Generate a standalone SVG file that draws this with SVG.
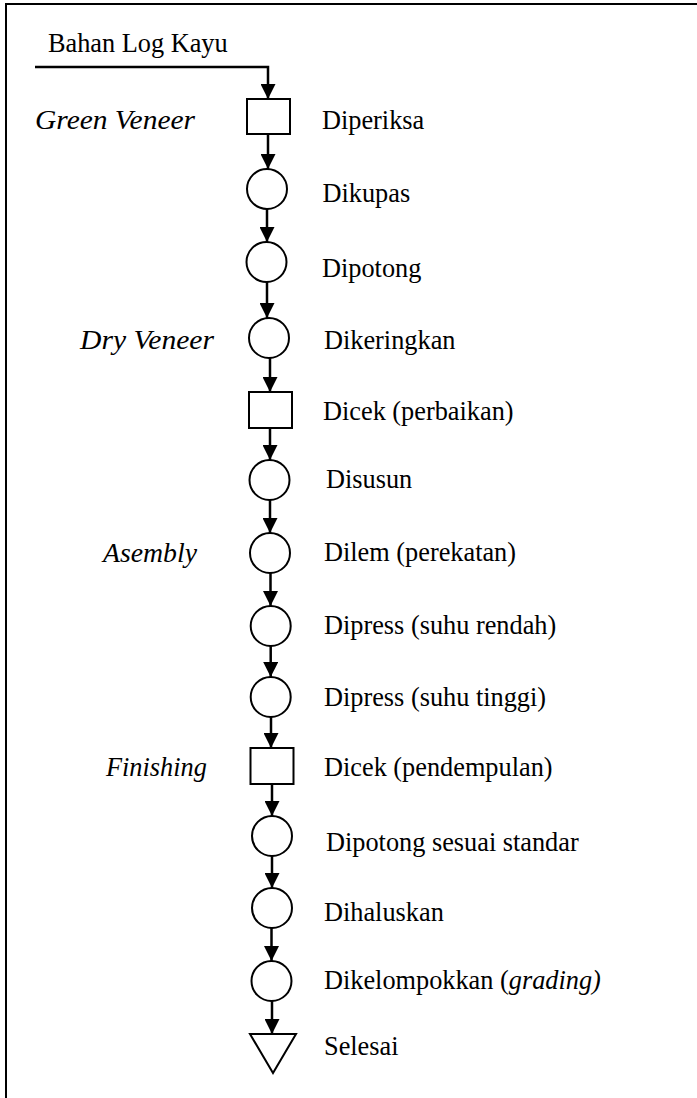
<svg xmlns="http://www.w3.org/2000/svg" width="697" height="1098" viewBox="0 0 697 1098">
  <defs>
    <marker id="arrow" markerUnits="userSpaceOnUse" markerWidth="15" markerHeight="15" refX="15" refY="7.5" orient="auto">
      <path d="M0,0 L15,7.5 L0,15 Z" fill="#000"/>
    </marker>
  </defs>
  <style>
    .frame { fill: none; stroke: #000; stroke-width: 2; }
    .shape { fill: #fff; stroke: #000; stroke-width: 2; }
    .link { fill: none; stroke: #000; stroke-width: 2.5; marker-end: url(#arrow); }
    .lbl { font-family: 'Liberation Serif', serif; font-size: 26.3px; fill: #000; }
    .phase { font-style: italic; }
  </style>
  <rect width="697" height="1098" fill="#fff"/>

  <!-- page frame: top and left rules -->
  <path class="frame" d="M697,4 H6 V1098"/>

  <text class="lbl" x="48" y="52">Bahan Log Kayu</text>

  <!-- phase captions -->
  <g id="phase-green-veneer"><text class="lbl phase" x="35" y="129" textLength="160" lengthAdjust="spacingAndGlyphs">Green Veneer</text></g>
  <g id="phase-dry-veneer"><text class="lbl phase" x="80" y="349" textLength="134" lengthAdjust="spacingAndGlyphs">Dry Veneer</text></g>
  <g id="phase-asembly"><text class="lbl phase" x="103" y="562" textLength="94" lengthAdjust="spacingAndGlyphs">Asembly</text></g>
  <g id="phase-finishing"><text class="lbl phase" x="106" y="776">Finishing</text></g>

  <!-- connectors -->
  <g id="connectors">
    <path class="link" d="M35,67 H268 V99"/>
    <path class="link" d="M268,134 V169"/>
    <path class="link" d="M267,209 V242"/>
    <path class="link" d="M267,282 V318"/>
    <path class="link" d="M270,358 V392"/>
    <path class="link" d="M270,428 V460"/>
    <path class="link" d="M270,500 V533"/>
    <path class="link" d="M270.5,573 V606"/>
    <path class="link" d="M270.7,646 V677"/>
    <path class="link" d="M271,717 V748"/>
    <path class="link" d="M272,784 V816"/>
    <path class="link" d="M272,856 V888"/>
    <path class="link" d="M271.5,928 V961"/>
    <path class="link" d="M272,1001 V1034"/>
  </g>

  <!-- process steps -->
  <g id="diperiksa">
    <rect class="shape" x="247" y="99" width="43" height="35"/>
    <text class="lbl" x="322" y="129">Diperiksa</text>
  </g>
  <g id="dikupas">
    <circle class="shape" cx="267" cy="189" r="20"/>
    <text class="lbl" x="322.5" y="202">Dikupas</text>
  </g>
  <g id="dipotong">
    <circle class="shape" cx="266.5" cy="262" r="20"/>
    <text class="lbl" x="322" y="276.5">Dipotong</text>
  </g>
  <g id="dikeringkan">
    <circle class="shape" cx="269" cy="338" r="20"/>
    <text class="lbl" x="324" y="349">Dikeringkan</text>
  </g>
  <g id="dicek-perbaikan">
    <rect class="shape" x="249" y="392" width="43" height="36"/>
    <text class="lbl" x="323" y="420">Dicek (perbaikan)</text>
  </g>
  <g id="disusun">
    <circle class="shape" cx="269.5" cy="480" r="20"/>
    <text class="lbl" x="326" y="488">Disusun</text>
  </g>
  <g id="dilem">
    <circle class="shape" cx="270" cy="553" r="20"/>
    <text class="lbl" x="324" y="561">Dilem (perekatan)</text>
  </g>
  <g id="dipress-rendah">
    <circle class="shape" cx="270.7" cy="626" r="20"/>
    <text class="lbl" x="324" y="634">Dipress (suhu rendah)</text>
  </g>
  <g id="dipress-tinggi">
    <circle class="shape" cx="270.7" cy="697" r="20"/>
    <text class="lbl" x="324" y="706">Dipress (suhu tinggi)</text>
  </g>
  <g id="dicek-pendempulan">
    <rect class="shape" x="250.5" y="748" width="43" height="36"/>
    <text class="lbl" x="324" y="776">Dicek (pendempulan)</text>
  </g>
  <g id="dipotong-standar">
    <circle class="shape" cx="272" cy="836" r="20"/>
    <text class="lbl" x="326" y="850.5">Dipotong sesuai standar</text>
  </g>
  <g id="dihaluskan">
    <circle class="shape" cx="272" cy="908" r="20"/>
    <text class="lbl" x="324" y="921">Dihaluskan</text>
  </g>
  <g id="dikelompokkan">
    <circle class="shape" cx="271.5" cy="981" r="20"/>
    <text class="lbl" x="324" y="989">Dikelompokkan (<tspan class="phase">grading)</tspan></text>
  </g>
  <g id="selesai">
    <path class="shape" d="M250,1034 H296 L273,1073 Z"/>
    <text class="lbl" x="324" y="1055">Selesai</text>
  </g>
</svg>
